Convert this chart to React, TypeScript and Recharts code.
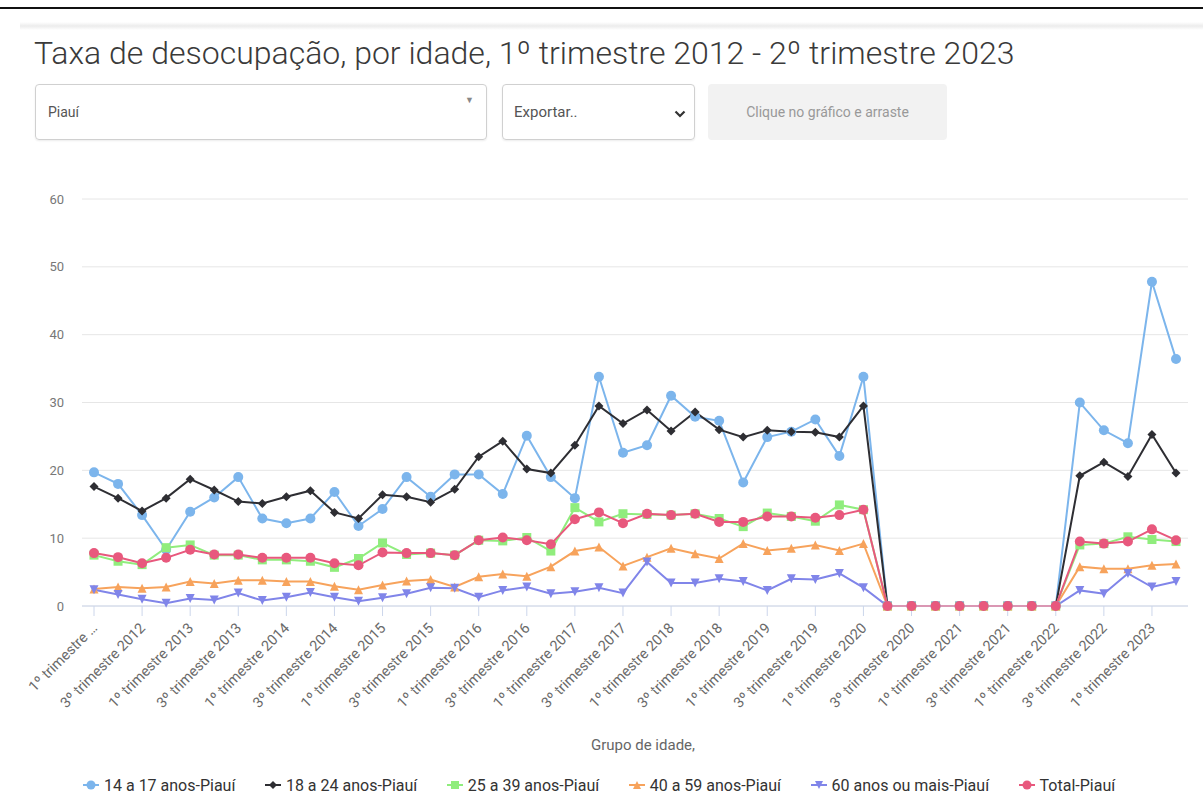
import React from 'react';
import { LineChart, Line, XAxis, YAxis, CartesianGrid, Legend } from 'recharts';

const categories = [
  '1º trimestre 2012', '2º trimestre 2012', '3º trimestre 2012', '4º trimestre 2012',
  '1º trimestre 2013', '2º trimestre 2013', '3º trimestre 2013', '4º trimestre 2013',
  '1º trimestre 2014', '2º trimestre 2014', '3º trimestre 2014', '4º trimestre 2014',
  '1º trimestre 2015', '2º trimestre 2015', '3º trimestre 2015', '4º trimestre 2015',
  '1º trimestre 2016', '2º trimestre 2016', '3º trimestre 2016', '4º trimestre 2016',
  '1º trimestre 2017', '2º trimestre 2017', '3º trimestre 2017', '4º trimestre 2017',
  '1º trimestre 2018', '2º trimestre 2018', '3º trimestre 2018', '4º trimestre 2018',
  '1º trimestre 2019', '2º trimestre 2019', '3º trimestre 2019', '4º trimestre 2019',
  '1º trimestre 2020', '2º trimestre 2020', '3º trimestre 2020', '4º trimestre 2020',
  '1º trimestre 2021', '2º trimestre 2021', '3º trimestre 2021', '4º trimestre 2021',
  '1º trimestre 2022', '2º trimestre 2022', '3º trimestre 2022', '4º trimestre 2022',
  '1º trimestre 2023', '2º trimestre 2023',
];

const s14a17 = [19.7, 18.0, 13.4, 8.3, 13.9, 16.0, 19.0, 12.9, 12.2, 12.9, 16.8, 11.8, 14.3, 19.0, 16.1, 19.4, 19.4, 16.5, 25.1, 19.0, 15.9, 33.8, 22.6, 23.7, 31.0, 27.9, 27.3, 18.2, 24.9, 25.7, 27.5, 22.1, 33.8, 0, 0, 0, 0, 0, 0, 0, 0, 30.0, 25.9, 24.0, 47.8, 36.4];
const s18a24 = [17.6, 15.9, 14.0, 15.9, 18.7, 17.1, 15.4, 15.1, 16.1, 17.0, 13.8, 12.9, 16.4, 16.1, 15.3, 17.2, 22.0, 24.3, 20.2, 19.6, 23.7, 29.5, 26.9, 28.9, 25.8, 28.6, 26.0, 24.9, 25.9, 25.7, 25.6, 24.9, 29.5, 0, 0, 0, 0, 0, 0, 0, 0, 19.2, 21.2, 19.1, 25.3, 19.6];
const s25a39 = [7.5, 6.6, 6.1, 8.6, 9.0, 7.5, 7.5, 6.8, 6.8, 6.6, 5.7, 7.0, 9.3, 7.6, 7.8, 7.5, 9.7, 9.6, 10.1, 8.1, 14.5, 12.4, 13.6, 13.5, 13.4, 13.6, 12.9, 11.7, 13.7, 13.2, 12.5, 14.9, 14.2, 0, 0, 0, 0, 0, 0, 0, 0, 9.0, 9.2, 10.2, 9.8, 9.5];
const s40a59 = [2.5, 2.8, 2.6, 2.8, 3.6, 3.3, 3.8, 3.8, 3.6, 3.6, 2.9, 2.4, 3.1, 3.7, 3.9, 2.8, 4.3, 4.7, 4.4, 5.8, 8.1, 8.7, 5.9, 7.2, 8.5, 7.7, 7.0, 9.2, 8.2, 8.5, 9.0, 8.2, 9.2, 0, 0, 0, 0, 0, 0, 0, 0, 5.8, 5.5, 5.5, 6.0, 6.2];
const s60mais = [2.4, 1.7, 1.0, 0.4, 1.1, 0.9, 1.9, 0.8, 1.3, 2.0, 1.3, 0.7, 1.2, 1.8, 2.7, 2.6, 1.3, 2.3, 2.8, 1.8, 2.1, 2.7, 1.9, 6.5, 3.4, 3.4, 4.0, 3.6, 2.3, 4.0, 3.9, 4.8, 2.7, 0, 0, 0, 0, 0, 0, 0, 0, 2.3, 1.8, 4.8, 2.8, 3.6];
const sTotal = [7.8, 7.2, 6.3, 7.1, 8.3, 7.6, 7.6, 7.1, 7.1, 7.1, 6.3, 6.0, 7.9, 7.8, 7.8, 7.5, 9.7, 10.1, 9.7, 9.1, 12.8, 13.8, 12.2, 13.6, 13.4, 13.6, 12.4, 12.4, 13.2, 13.2, 13.0, 13.4, 14.2, 0, 0, 0, 0, 0, 0, 0, 0, 9.5, 9.2, 9.5, 11.3, 9.7];

const yTicks = [0, 10, 20, 30, 40, 50, 60];

const seriesNames = ['14 a 17 anos-Piauí', '18 a 24 anos-Piauí', '25 a 39 anos-Piauí', '40 a 59 anos-Piauí', '60 anos ou mais-Piauí', 'Total-Piauí'];
const seriesKeys = ['a', 'b', 'c', 'd', 'e', 'f'];
const seriesColors = ['#7cb5ec', '#2e2e33', '#90ed7d', '#f7a35c', '#8085e9', '#e8587d'];
const seriesShapes = ['circle', 'diamond', 'square', 'triangle', 'triangle-down', 'circle'];

const data = categories.map((cat, i) => ({
  cat,
  a: s14a17[i],
  b: s18a24[i],
  c: s25a39[i],
  d: s40a59[i],
  e: s60mais[i],
  f: sTotal[i],
}));

function Marker({ shape, cx, cy, color, r = 4.5 }: any) {
  if (cx == null || cy == null) return null;
  switch (shape) {
    case 'circle':
      return <circle cx={cx} cy={cy} r={r + 0.5} fill={color} />;
    case 'diamond':
      return <path d={`M${cx} ${cy - r}L${cx + r} ${cy}L${cx} ${cy + r}L${cx - r} ${cy}Z`} fill={color} />;
    case 'square':
      return <rect x={cx - r} y={cy - r} width={2 * r} height={2 * r} fill={color} />;
    case 'triangle':
      return <path d={`M${cx} ${cy - r}L${cx + r} ${cy + r}L${cx - r} ${cy + r}Z`} fill={color} />;
    case 'triangle-down':
      return <path d={`M${cx - r} ${cy - r}L${cx + r} ${cy - r}L${cx} ${cy + r}Z`} fill={color} />;
    default:
      return null;
  }
}

const XTick = (props: any) => {
  const { x, y, payload } = props;
  const label = payload.value === categories[0] ? '1º trimestre …' : payload.value;
  const tx = x + 4;
  const ty = y + 11;
  return (
    <text
      x={tx}
      y={ty}
      textAnchor="end"
      transform={`rotate(-45 ${tx} ${ty})`}
      fontSize={14.5}
      fill="#6a6a6a"
      fontFamily="Roboto, sans-serif"
    >
      {label}
    </text>
  );
};

const renderLegend = () => (
  <div
    style={{
      display: 'flex',
      alignItems: 'center',
      height: 20,
      paddingLeft: 83,
      fontFamily: 'Roboto, sans-serif',
    }}
  >
    {seriesNames.map((name, i) => (
      <div key={name} style={{ display: 'flex', alignItems: 'center', marginRight: 29.5 }}>
        <svg width={16} height={12} style={{ display: 'block' }}>
          <line x1={0} y1={6} x2={16} y2={6} stroke={seriesColors[i]} strokeWidth={2} />
          <Marker shape={seriesShapes[i]} cx={8} cy={6} color={seriesColors[i]} r={4} />
        </svg>
        <span style={{ marginLeft: 5, fontSize: 16, color: '#333', whiteSpace: 'nowrap' }}>{name}</span>
      </div>
    ))}
  </div>
);

const boxBase: React.CSSProperties = {
  position: 'absolute',
  top: 84,
  height: 56,
  boxSizing: 'border-box',
  borderRadius: 4,
  display: 'flex',
  alignItems: 'center',
  fontFamily: 'Roboto, sans-serif',
};

export default function App() {
  return (
    <div
      style={{
        position: 'absolute',
        left: 0,
        top: 0,
        width: 1203,
        height: 805,
        background: '#fff',
        overflow: 'hidden',
        fontFamily: 'Roboto, sans-serif',
      }}
    >
      <div style={{ position: 'absolute', left: 0, top: 7, width: 1203, height: 2, background: '#111' }} />
      <div
        style={{
          position: 'absolute',
          left: 20,
          top: 22,
          width: 1183,
          height: 8,
          background: 'linear-gradient(#fff, #ececec, #fff)',
        }}
      />
      <div
        style={{
          position: 'absolute',
          left: 34,
          top: 34,
          fontSize: 32,
          lineHeight: '38px',
          fontWeight: 300,
          color: '#3a3a3a',
          whiteSpace: 'nowrap',
        }}
      >
        Taxa de desocupação, por idade, 1º trimestre 2012 - 2º trimestre 2023
      </div>

      <div
        style={{
          ...boxBase,
          left: 35,
          width: 452,
          border: '1px solid #d0d0d0',
          boxShadow: '0 1px 2px rgba(0,0,0,0.08)',
          paddingLeft: 12,
          fontSize: 14,
          color: '#555',
        }}
      >
        Piauí
        <span style={{ position: 'absolute', right: 12, top: 10, fontSize: 9, color: '#888' }}>▼</span>
      </div>

      <div
        style={{
          ...boxBase,
          left: 502,
          width: 193,
          border: '1px solid #d0d0d0',
          boxShadow: '0 1px 2px rgba(0,0,0,0.08)',
          paddingLeft: 11,
          fontSize: 15,
          color: '#555',
        }}
      >
        Exportar..
        <svg width={12} height={8} style={{ position: 'absolute', right: 8, top: 25 }}>
          <path d="M1.5 1.5 L6 6 L10.5 1.5" stroke="#333" strokeWidth={2.2} fill="none" />
        </svg>
      </div>

      <div
        style={{
          ...boxBase,
          left: 708,
          width: 239,
          background: '#f2f2f2',
          justifyContent: 'center',
          fontSize: 14,
          color: '#999',
        }}
      >
        Clique no gráfico e arraste
      </div>

      <div style={{ position: 'absolute', left: 0, top: 150 }}>
        <LineChart width={1203} height={655} data={data} margin={{ top: 49, right: 15, bottom: 10, left: 0 }}>
          <CartesianGrid vertical={false} stroke="#e6e6e6" />
          <XAxis
            dataKey="cat"
            interval={1}
            tick={<XTick />}
            tickSize={10}
            tickLine={{ stroke: '#ccd6eb' }}
            axisLine={{ stroke: '#ccd6eb' }}
            padding={{ left: 12, right: 12 }}
            height={169}
            label={{
              value: 'Grupo de idade,',
              position: 'insideBottom',
              offset: 25,
              fill: '#666',
              fontSize: 15,
              dx: 8,
            }}
          />
          <YAxis
            domain={[0, 60]}
            ticks={yTicks}
            width={82}
            axisLine={false}
            tickLine={false}
            tickSize={0}
            tickMargin={18}
            tick={{ fill: '#777', fontSize: 13 }}
          />
          <Legend verticalAlign="bottom" content={renderLegend} />
          {seriesKeys.map((k, i) => (
            <Line
              key={k}
              type="linear"
              dataKey={k}
              name={seriesNames[i]}
              stroke={seriesColors[i]}
              strokeWidth={2}
              isAnimationActive={false}
              activeDot={false}
              dot={(p: any) => (
                <Marker
                  key={`${k}-${p.index}`}
                  shape={seriesShapes[i]}
                  cx={p.cx}
                  cy={p.cy}
                  color={seriesColors[i]}
                />
              )}
            />
          ))}
        </LineChart>
      </div>
    </div>
  );
}
